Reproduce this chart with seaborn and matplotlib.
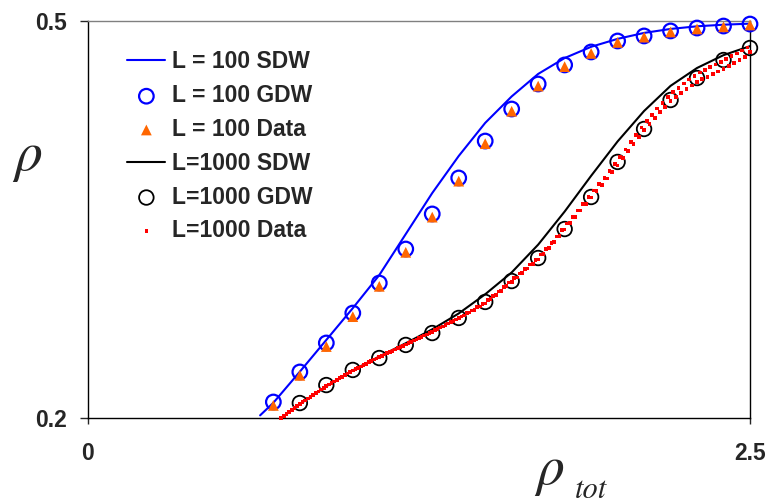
import numpy as np
import pandas as pd
import matplotlib
matplotlib.use('Agg')
import matplotlib.pyplot as plt
import seaborn as sns

# L = 100 curves
l100_sdw_x = [0.65, 0.7, 0.8, 0.9, 1.0, 1.1, 1.2, 1.3, 1.4, 1.5, 1.6, 1.7, 1.8, 1.9, 2.0, 2.1, 2.2, 2.3, 2.4, 2.5]
l100_sdw_y = [0.2020, 0.2115, 0.2350, 0.2590, 0.2830, 0.3080, 0.3390, 0.3700, 0.3980, 0.4230,
              0.4430, 0.4600, 0.4720, 0.4805, 0.4865, 0.4910, 0.4940, 0.4960, 0.4972, 0.4980]

l100_x = [0.7, 0.8, 0.9, 1.0, 1.1, 1.2, 1.3, 1.4, 1.5, 1.6, 1.7, 1.8, 1.9, 2.0, 2.1, 2.2, 2.3, 2.4, 2.5]
l100_gdw = [0.2121, 0.2348, 0.2567, 0.2793, 0.3020, 0.3277, 0.3542, 0.3814, 0.4093, 0.4335,
            0.4524, 0.4668, 0.4766, 0.4849, 0.4887, 0.4925, 0.4947, 0.4962, 0.4977]
l100_data = [0.2095, 0.2322, 0.2540, 0.2766, 0.2995, 0.3252, 0.3518, 0.3790, 0.4073, 0.4318,
             0.4508, 0.4655, 0.4755, 0.4838, 0.4878, 0.4917, 0.4940, 0.4956, 0.4970]

# L = 1000 curves
l1000_sdw_x = [0.73, 0.8, 0.9, 1.0, 1.1, 1.2, 1.3, 1.4, 1.5, 1.6, 1.7, 1.8, 1.9, 2.0, 2.1, 2.2, 2.3, 2.4, 2.5]
l1000_sdw_y = [0.2000, 0.2105, 0.2240, 0.2360, 0.2465, 0.2565, 0.2670, 0.2790, 0.2935, 0.3100,
               0.3310, 0.3560, 0.3830, 0.4090, 0.4320, 0.4510, 0.4645, 0.4742, 0.4810]

l1000_x = [0.8, 0.9, 1.0, 1.1, 1.2, 1.3, 1.4, 1.5, 1.6, 1.7, 1.8, 1.9, 2.0, 2.1, 2.2, 2.3, 2.4, 2.5]
l1000_gdw = [0.2113, 0.2249, 0.2363, 0.2453, 0.2552, 0.2642, 0.2756, 0.2877, 0.3035, 0.3209,
             0.3428, 0.3670, 0.3935, 0.4184, 0.4403, 0.4569, 0.4705, 0.4796]

# simulation data, L = 1000 (sampled every 0.01 from 0.73 to 2.50)
l1000_data_x = np.round(np.arange(0.73, 2.505, 0.01), 2)
l1000_data_y = [
    0.2000, 0.2017, 0.2032, 0.2047, 0.2061, 0.2076, 0.2091, 0.2105, 0.2119, 0.2133,
    0.2148, 0.2161, 0.2175, 0.2188, 0.2201, 0.2215, 0.2227, 0.2240, 0.2252, 0.2265,
    0.2276, 0.2289, 0.2300, 0.2312, 0.2323, 0.2336, 0.2346, 0.2358, 0.2368, 0.2380,
    0.2389, 0.2401, 0.2410, 0.2421, 0.2430, 0.2441, 0.2450, 0.2460, 0.2470, 0.2479,
    0.2490, 0.2498, 0.2508, 0.2518, 0.2527, 0.2537, 0.2545, 0.2555, 0.2565, 0.2574,
    0.2585, 0.2593, 0.2603, 0.2612, 0.2623, 0.2632, 0.2643, 0.2652, 0.2663, 0.2672,
    0.2683, 0.2692, 0.2703, 0.2713, 0.2724, 0.2733, 0.2745, 0.2755,
    0.2768, 0.2774, 0.2791, 0.2797, 0.2813, 0.2818, 0.2837, 0.2842, 0.2861, 0.2866,
    0.2890, 0.2897, 0.2922, 0.2929, 0.2955, 0.2961, 0.2990, 0.2995, 0.3024, 0.3029,
    0.3058, 0.3062, 0.3093, 0.3097, 0.3127, 0.3130, 0.3161, 0.3163, 0.3196, 0.3198,
    0.3235, 0.3241, 0.3279, 0.3284, 0.3324, 0.3330, 0.3372, 0.3377, 0.3421, 0.3425,
    0.3470, 0.3472, 0.3518, 0.3520, 0.3567, 0.3568, 0.3617, 0.3618, 0.3668, 0.3667,
    0.3718, 0.3714, 0.3766, 0.3762, 0.3815, 0.3809, 0.3866, 0.3859, 0.3917, 0.3908,
    0.3971, 0.3963, 0.4028, 0.4018, 0.4085, 0.4072, 0.4140, 0.4125, 0.4195, 0.4178,
    0.4246, 0.4224, 0.4292, 0.4268, 0.4340, 0.4311, 0.4382, 0.4352, 0.4425, 0.4394,
    0.4463, 0.4425, 0.4496, 0.4456, 0.4528, 0.4486, 0.4557, 0.4513, 0.4585, 0.4540,
    0.4610, 0.4560, 0.4631, 0.4579, 0.4651, 0.4599, 0.4671, 0.4619, 0.4691, 0.4639,
    0.4712, 0.4661, 0.4734, 0.4683, 0.4755, 0.4706, 0.4777, 0.4728, 0.4799, 0.4765,
]

sns.set_style('white')
plt.rcParams['font.family'] = ['Liberation Sans', 'DejaVu Sans']
plt.rcParams['mathtext.fontset'] = 'stix'

fig = plt.figure(figsize=(7.68, 5.04), dpi=100)
ax = fig.add_axes([88 / 768, 1 - 418 / 504, 662 / 768, 397 / 504])

sns.lineplot(x=l100_sdw_x, y=l100_sdw_y, color='#0000FF', lw=1.5, label='L = 100 SDW', ax=ax)
sns.scatterplot(x=l100_x, y=l100_gdw, marker='o', s=110, facecolors='none', edgecolor='#0000FF',
                linewidth=1.6, label='L = 100 GDW', ax=ax, clip_on=False, zorder=3)
sns.scatterplot(x=l100_x, y=l100_data, marker='^', s=60, color='#FF6600', edgecolor='none',
                label='L = 100 Data', ax=ax, clip_on=False, zorder=4)
sns.lineplot(x=l1000_sdw_x, y=l1000_sdw_y, color='black', lw=1.5, label='L=1000 SDW', ax=ax)
sns.scatterplot(x=l1000_x, y=l1000_gdw, marker='o', s=110, facecolors='none', edgecolor='black',
                linewidth=1.3, label='L=1000 GDW', ax=ax, clip_on=False, zorder=3)
sns.scatterplot(x=l1000_data_x, y=l1000_data_y, marker='s', s=7, color='#FF0000', edgecolor='none',
                label='L=1000 Data', ax=ax, clip_on=False, zorder=5)

ax.set_xlim(0, 2.5)
ax.set_ylim(0.2, 0.5)
ax.set_xticks([0, 2.5])
ax.set_xticklabels(['0', '2.5'])
ax.set_yticks([0.2, 0.5])
ax.set_yticklabels(['0.2', '0.5'])
ax.tick_params(axis='y', direction='out', length=6, width=1, pad=9, labelsize=16.5, left=True)
ax.tick_params(axis='x', direction='out', length=4, width=1, pad=13, labelsize=16.5, bottom=True)
for lab in ax.get_xticklabels() + ax.get_yticklabels():
    lab.set_fontweight('bold')
for side in ['left', 'bottom', 'right']:
    ax.spines[side].set_color('black')
    ax.spines[side].set_linewidth(1)
ax.spines['top'].set_color('#808080')
ax.spines['top'].set_linewidth(1)
ax.set_xlabel('')
ax.set_ylabel('')

leg = ax.legend(loc='upper left', bbox_to_anchor=(116 / 768, 1 - 39 / 504),
                bbox_transform=fig.transFigure, frameon=False, borderpad=0,
                handlelength=1.65, handletextpad=0.3, labelspacing=0.47,
                prop={'weight': 'bold', 'size': 16.5})

fig.text(27 / 768, 1 - 158 / 504, r'$\rho$', fontsize=40, ha='center', va='center')
fig.text(549 / 768, 1 - 472 / 504, r'$\rho$', fontsize=40, ha='center', va='center')
fig.text(591 / 768, 1 - 490 / 504, 'tot', fontsize=22, family='STIXGeneral', style='italic',
         ha='center', va='center')

fig.savefig('out.png', dpi=100)
